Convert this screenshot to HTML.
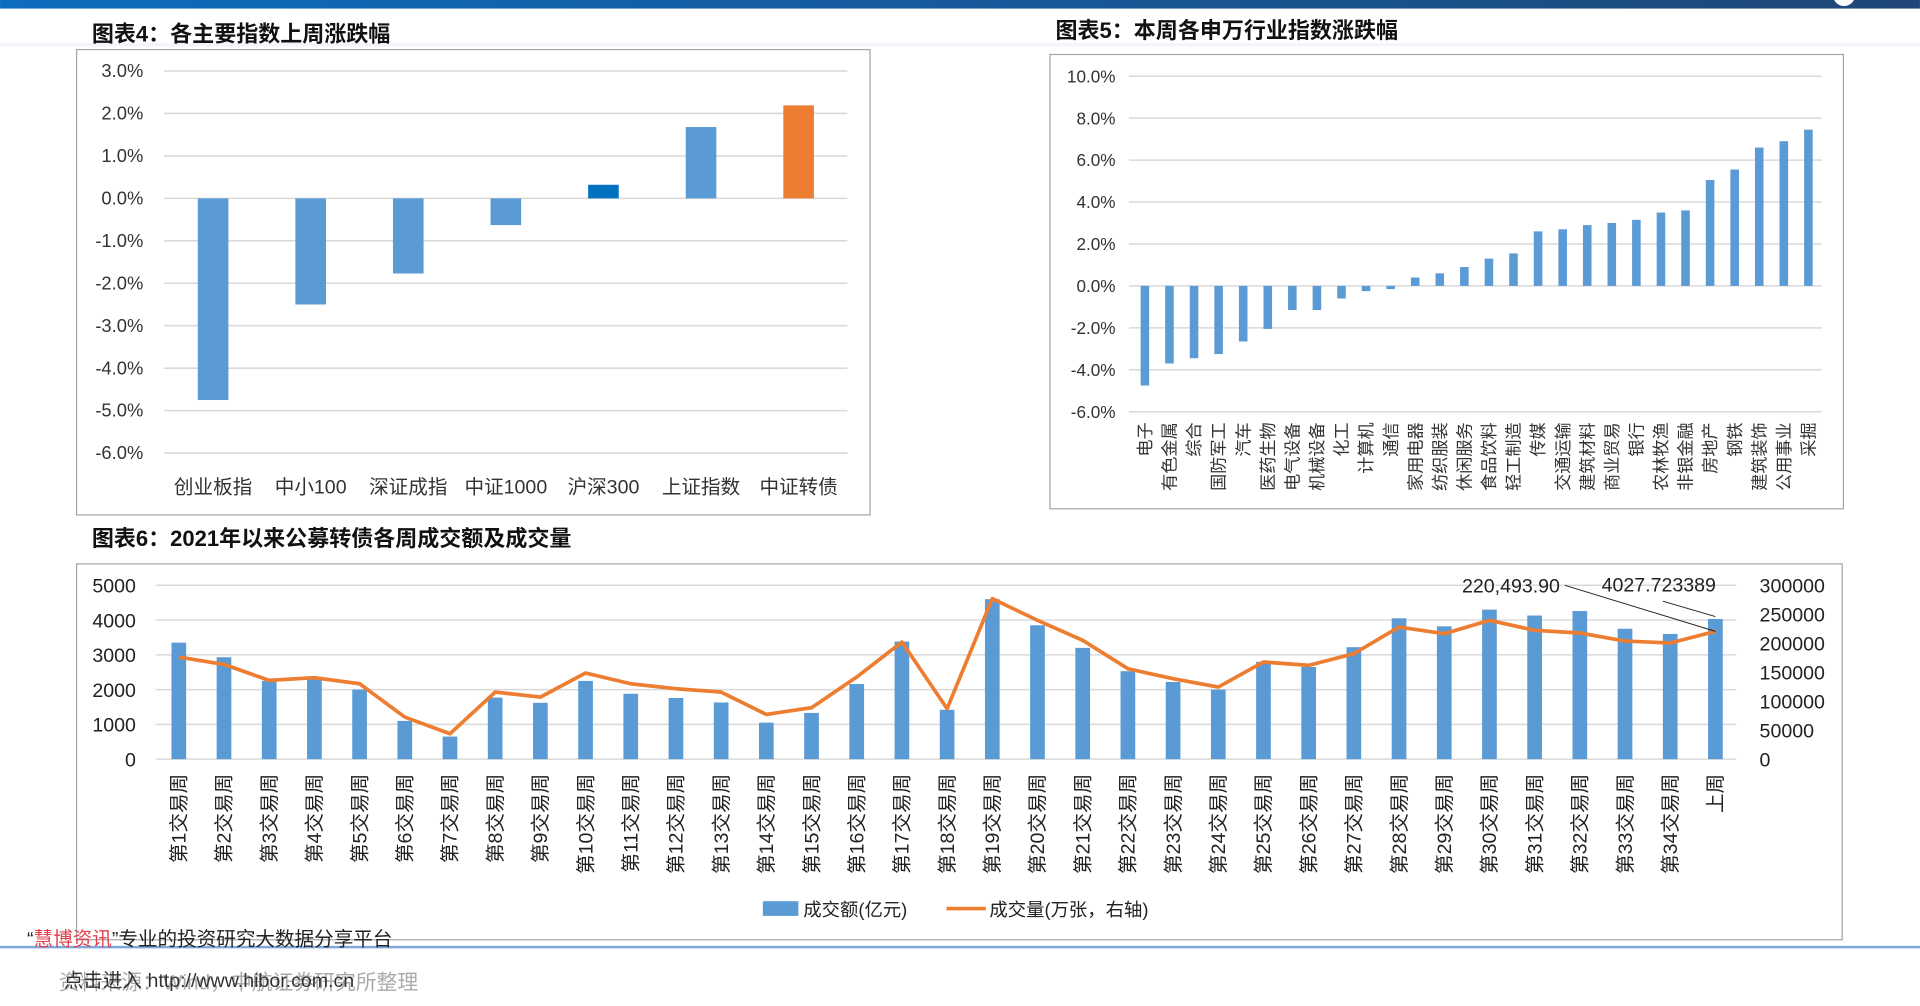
<!DOCTYPE html>
<html><head><meta charset="utf-8"><style>
html,body{margin:0;padding:0;background:#fff;}
svg{display:block;font-family:"Liberation Sans","Noto Sans CJK SC",sans-serif;}
</style></head><body>
<svg id="s" width="1920" height="1006" viewBox="0 0 1568 821.6" xmlns="http://www.w3.org/2000/svg">
<defs><linearGradient id="tg" x1="0" x2="1"><stop offset="0" stop-color="#0d6dbf"/><stop offset="1" stop-color="#1f4777"/></linearGradient></defs>
<rect x="0" y="0" width="1568" height="7" fill="url(#tg)"/>
<circle cx="1506" cy="-4" r="9" fill="#fff"/>
<rect x="0" y="35" width="1568" height="3" fill="#f3f5fa"/>
<text x="75" y="34" font-size="18" font-weight="bold" fill="#111">图表4：各主要指数上周涨跌幅</text>
<text x="862" y="31" font-size="18" font-weight="bold" fill="#111">图表5：本周各申万行业指数涨跌幅</text>
<text x="75" y="446" font-size="18" font-weight="bold" fill="#111">图表6：2021年以来公募转债各周成交额及成交量</text>
<rect x="62.5" y="40.5" width="648" height="380" fill="none" stroke="#a6a6a6"/>
<rect x="857.5" y="44.5" width="648" height="371" fill="none" stroke="#a6a6a6"/>
<rect x="62.5" y="460.5" width="1442" height="307" fill="none" stroke="#a6a6a6"/>
<g id="c4"></g>
<g id="c5"></g>
<g id="c6"></g>
<g>
<rect x="623" y="736" width="29" height="12" fill="#5b9bd5"/>
<text x="656" y="748" font-size="15" fill="#222">成交额(亿元)</text>
<line x1="773" y1="742" x2="805" y2="742" stroke="#ed7d31" stroke-width="3"/>
<text x="808" y="748" font-size="15" fill="#222">成交量(万张，右轴)</text>
</g>
<line x1="0" y1="773.5" x2="1568" y2="773.5" stroke="#7fa9dc" stroke-width="2"/>
<text x="22" y="772" font-size="16" fill="#222"><tspan fill="#222">“</tspan><tspan fill="#e0434f">慧博资讯</tspan>”专业的投资研究大数据分享平台</text>
<text x="48" y="808" font-size="17" fill="#aaa">资料来源：Wind，中航证券研究所整理</text>
<text x="52" y="806" font-size="16" fill="#333">点击进入 http://www.hibor.com.cn</text>
<script>
var c4Cats=["创业板指","中小100","深证成指","中证1000","沪深300","上证指数","中证转债"];
var c4Vals=[-4.75,-2.5,-1.77,-0.63,0.32,1.68,2.19];
var c4Ticks=[3,2,1,0,-1,-2,-3,-4,-5,-6];
var c5Cats=["电子","有色金属","综合","国防军工","汽车","医药生物","电气设备","机械设备","化工","计算机","通信","家用电器","纺织服装","休闲服务","食品饮料","轻工制造","传媒","交通运输","建筑材料","商业贸易","银行","农林牧渔","非银金融","房地产","钢铁","建筑装饰","公用事业","采掘"];
var c5Vals=[-4.75,-3.7,-3.45,-3.25,-2.65,-2.05,-1.15,-1.15,-0.6,-0.25,-0.15,0.4,0.6,0.9,1.3,1.55,2.6,2.7,2.9,3.0,3.15,3.5,3.6,5.05,5.55,6.6,6.9,7.45];
var c5Ticks=[10,8,6,4,2,0,-2,-4,-6];
var c6Cats=[];for(var i=1;i<=34;i++)c6Cats.push("第"+i+"交易周");c6Cats.push("上周");
var c6Amount=[3350,2930,2250,2300,2000,1100,650,1770,1620,2250,1880,1760,1630,1050,1330,2160,3380,1420,4600,3850,3200,2530,2220,2000,2800,2650,3220,4050,3820,4300,4130,4260,3750,3600,4030];
var c6Volume=[176200,163500,135900,140500,130100,72600,43800,115700,107100,148600,130100,121500,115700,77200,88700,141700,202100,87000,277000,239500,205000,156000,138800,124400,167600,161800,182000,228000,216500,239500,222300,217700,203800,200400,220493.9];
var c6LeftTicks=[5000,4000,3000,2000,1000,0];
var c6RightTicks=[300000,250000,200000,150000,100000,50000,0];
var NS="http://www.w3.org/2000/svg";
function mk(p,t,a,txt){var e=document.createElementNS(NS,t);for(var k in a)e.setAttribute(k,a[k]);if(txt!==undefined)e.textContent=txt;p.appendChild(e);return e;}
(function(){var g=document.getElementById('c4');
function y(v){return 162-v*34.67;}function x(i){return 174+i*79.7;}
c4Ticks.forEach(function(t){var l=mk(g,'line',{x1:134,x2:692,y1:y(t),y2:y(t),stroke:'#d9d9d9','stroke-width':1.3});

var tx=mk(g,'text',{x:117,y:y(t)+5,'font-size':15,'text-anchor':'end',fill:'#333'},t.toFixed(1)+'%');
});
c4Vals.forEach(function(v,i){var col=i==4?'#0070c0':(i==6?'#ed7d31':'#5b9bd5');
var r=mk(g,'rect',{x:x(i)-12.5,y:Math.min(y(v),y(0)),width:25,height:Math.abs(y(v)-y(0)),fill:col});

var t=mk(g,'text',{x:x(i),y:403,'font-size':16,'text-anchor':'middle',fill:'#333'},c4Cats[i]);
});})();
(function(){var g=document.getElementById('c5');
function y(v){return 233.5-v*17.125;}function x(i){return 935+i*20.07;}
c5Ticks.forEach(function(t){var l=mk(g,'line',{x1:922,x2:1488,y1:y(t),y2:y(t),stroke:'#d9d9d9','stroke-width':1.2});

var tx=mk(g,'text',{x:911,y:y(t)+5,'font-size':14,'text-anchor':'end',fill:'#333'},t.toFixed(1)+'%');
});
c5Vals.forEach(function(v,i){var r=mk(g,'rect',{x:x(i)-3.5,y:Math.min(y(v),y(0)),width:7,height:Math.abs(y(v)-y(0)),fill:'#5b9bd5'});

var t=mk(g,'text',{x:0,y:0,'font-size':14,'text-anchor':'end',fill:'#333',transform:'translate('+(x(i)+5)+',345) rotate(-90)'},c5Cats[i]);
});})();
(function(){var g=document.getElementById('c6');
function yl(v){return 620-v*0.0284;}function yr(v){return 620-v*142/300000;}function x(i){return 146+i*36.91;}
c6LeftTicks.forEach(function(t){var l=mk(g,'line',{x1:127,x2:1418,y1:yl(t),y2:yl(t),stroke:'#d9d9d9','stroke-width':1.2});

var tx=mk(g,'text',{x:111,y:yl(t)+6,'font-size':16,'text-anchor':'end',fill:'#222'},String(t));
});
c6RightTicks.forEach(function(t){var tx=mk(g,'text',{x:1437,y:yr(t)+6,'font-size':16,fill:'#222'},String(t));
});
c6Amount.forEach(function(v,i){var r=mk(g,'rect',{x:x(i)-6,y:yl(v),width:12,height:yl(0)-yl(v),fill:'#5b9bd5'});

var t=mk(g,'text',{x:0,y:0,'font-size':16,'text-anchor':'end',fill:'#222',transform:'translate('+(x(i)+5.5)+',632) rotate(-90)'},c6Cats[i]);
});
var pts=c6Volume.map(function(v,i){return x(i)+','+yr(v);}).join(' ');
var pl=mk(g,'polyline',{points:pts,fill:'none',stroke:'#ed7d31','stroke-width':3,'stroke-linejoin':'round'});

var n=c6Volume.length-1;
var a1=mk(g,'text',{x:1274,y:484,'font-size':16,'text-anchor':'end',fill:'#222'},c6Volume[n].toLocaleString('en-US',{minimumFractionDigits:2,maximumFractionDigits:2}));

var a2=mk(g,'text',{x:1308,y:483,'font-size':16,fill:'#222'},'4027.723389');

var l1=mk(g,'line',{x1:1278,y1:478,x2:x(n),y2:yr(c6Volume[n]),stroke:'#222','stroke-width':0.8});

var l2=mk(g,'line',{x1:1358,y1:491,x2:x(n),y2:yl(c6Amount[n])-2,stroke:'#222','stroke-width':0.8});

})();
</script>
</svg>
</body></html>
